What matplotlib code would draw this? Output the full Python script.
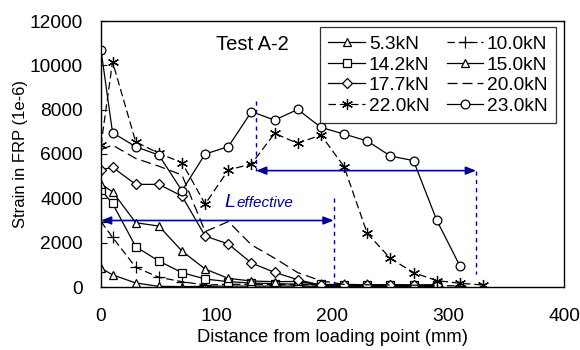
import numpy as np
import matplotlib
matplotlib.use("Agg")
import matplotlib.pyplot as plt

plt.rcParams['font.family'] = ['Liberation Sans', 'DejaVu Sans']

# measuring points along the FRP (mm)
dist = [0, 10, 30, 50, 70, 90, 110, 130, 150, 170, 190, 210, 230, 250, 270, 290, 310, 330]

s5_3 = [850, 550, 180, 30, 20, 30, 40, 40, 40, 40, 30, 30, 30, 30, 30, 30]
s10_0 = [2950, 2240, 890, 440, 240, 90, 120, 120, 110, 100, 90, 80, 70, 60, 60, 60, 50]
s14_2 = [4380, 3770, 1820, 1170, 650, 360, 240, 180, 150, 130, 120, 110, 100, 100, 90, 90]
s15_0 = [4630, 4300, 2900, 2750, 1620, 810, 390, 270, 240, 250, 100, 80, 80, 80, 80, 80]
s17_7 = [5280, 5400, 4630, 4630, 4100, 2300, 1940, 1080, 660, 330, 80, 80, 80, 80, 80, 80]
s20_0 = [6200, 6400, 5800, 5450, 5050, 2500, 2950, 1900, 1300, 650, 280, 120, 100, 90, 80, 70]
s22_0 = [6400, 10160, 6550, 6030, 5610, 3740, 5280, 5550, 6930, 6480, 6860, 5430, 2420, 1290, 650, 290, 170, 90]
s23_0 = [10700, 6960, 6330, 5950, 4340, 6000, 6330, 7910, 7530, 8010, 7200, 6900, 6590, 5910, 5700, 3020, 960]

labels = ['5.3kN', '10.0kN', '14.2kN', '15.0kN', '17.7kN', '20.0kN', '22.0kN', '23.0kN']

BLUE = '#000096'
FS = 13.8

fig = plt.figure(figsize=(5.8, 3.5), dpi=100)
ax = fig.add_axes([0.1741, 0.18, 0.7983, 0.76])

def line(vals, marker, ls, label, ms=6, mfc='white'):
    x = dist[:len(vals)]
    h, = ax.plot(x, vals, color='black', lw=0.9, ls=ls, marker=marker, ms=ms,
                 mfc=mfc, mec='black', mew=0.9, label=label)
    return h

h1 = line(s5_3, '^', '-', labels[0])
h2 = line(s10_0, '+', (0, (6, 3)), labels[1], ms=8)
h3 = line(s14_2, 's', '-', labels[2], ms=5.5)
h4 = line(s15_0, '^', '-', labels[3])
h5 = line(s17_7, 'D', '-', labels[4], ms=5)
h6 = line(s20_0, None, (0, (8, 4)), labels[5])
h7 = line(s22_0, (6, 2, 0), (0, (6, 3)), labels[6], ms=8)
h8 = line(s23_0, 'o', '-', labels[7], ms=6.3)

# effective length annotations
arrow = dict(arrowstyle='<|-|>,head_length=0.5,head_width=0.2', color=BLUE, lw=1.2,
             shrinkA=0, shrinkB=0, mutation_scale=12)
ax.annotate('', xy=(0, 3000), xytext=(201, 3000), arrowprops=arrow)
ax.annotate('', xy=(134, 5250), xytext=(324, 5250), arrowprops=arrow)
ax.plot([201, 201], [4000, 0], color=BLUE, lw=1, ls=(0, (3, 3)))
ax.plot([134, 134], [8400, 5250], color=BLUE, lw=1, ls=(0, (3, 3)))
ax.plot([324, 324], [5250, 600], color=BLUE, lw=1, ls=(0, (3, 3)))
ax.text(107, 3610, 'L', color=BLUE, fontsize=14, style='italic', va='baseline')
ax.text(117, 3610, 'effective', color=BLUE, fontsize=11, style='italic', va='baseline')

ax.text(99, 10920, 'Test A-2', fontsize=14.5, va='center', ha='left')

ax.set_xlim(0, 400)
ax.set_ylim(0, 12000)
ax.set_xticks([0, 100, 200, 300, 400])
ax.set_yticks(range(0, 12001, 2000))
ax.tick_params(axis='y', direction='in', length=4, width=0.8, pad=13, labelsize=FS)
ax.tick_params(axis='x', length=0, pad=15, labelsize=FS)
for sp in ax.spines.values():
    sp.set_linewidth(1.0)

ax.set_xlabel('Distance from loading point (mm)', fontsize=13.2, labelpad=3)
ax.set_ylabel('Strain in FRP (1e-6)', fontsize=12, labelpad=1)

handles = [h1, h3, h5, h7, h2, h4, h6, h8]
leg = ax.legend(handles=handles, ncol=2, loc='upper right', bbox_to_anchor=(0.983, 0.977),
                fontsize=FS, frameon=True, fancybox=False, edgecolor='black',
                handlelength=1.9, handletextpad=0.2, columnspacing=0.9,
                labelspacing=0.16, borderpad=0.45, borderaxespad=0)
leg.get_frame().set_linewidth(0.9)

fig.savefig('out.png', dpi=100)
